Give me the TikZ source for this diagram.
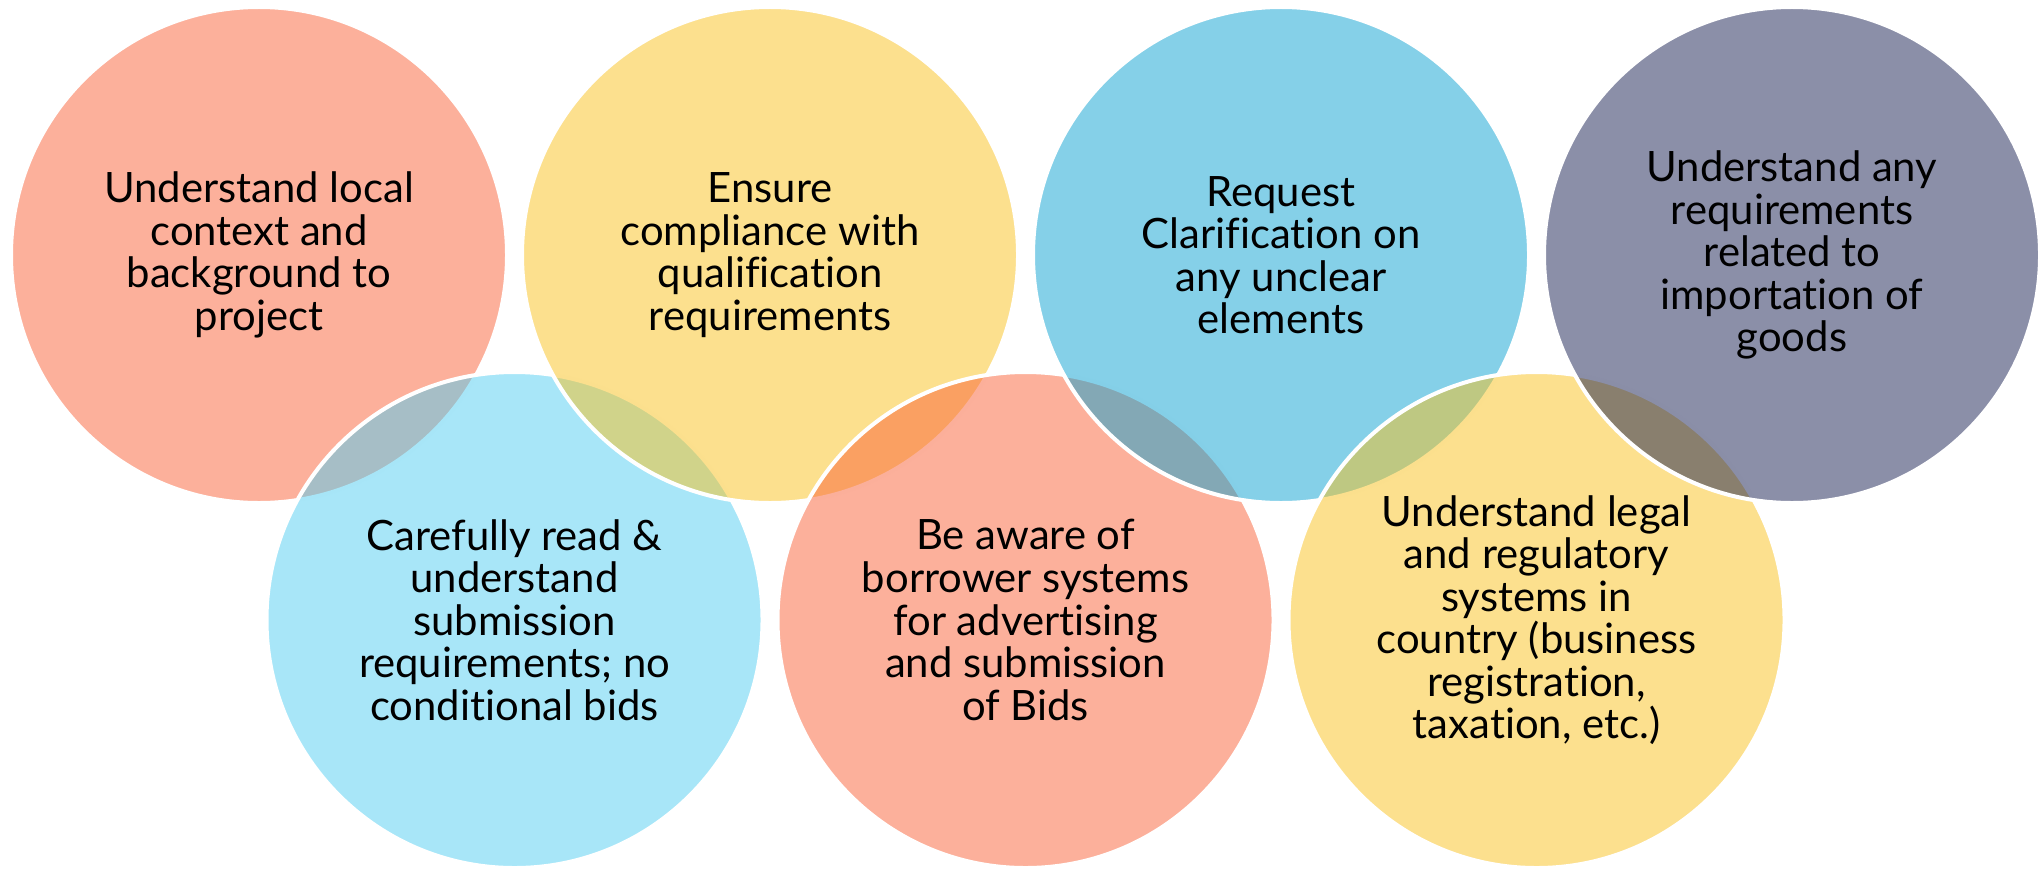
\documentclass[tikz,border=0pt]{standalone}
\usepackage{fontspec}
\setmainfont{Lato}[Ligatures=NoCommon]
\definecolor{csalmon}{RGB}{249,97,55}
\definecolor{cyellow}{RGB}{249,193,29}
\definecolor{cblue}{RGB}{11,161,209}
\definecolor{cslate}{RGB}{23,31,81}
\definecolor{clight}{RGB}{81,205,241}

\begin{document}
\begin{tikzpicture}[circ/.style={circle, minimum size=4.96cm, inner sep=0pt, draw=white, line width=0.04cm, fill opacity=0.5, % 半透明の円
    text opacity=1, text=black, align=center, font=\fontsize{11.9pt}{12.1pt}\selectfont}] % 文字は不透明
  \useasboundingbox (0,0) rectangle (20.39,8.68); % 全体の大きさ

  % 円は左から順に重ねる
  \node[circ, fill=csalmon] (local) at (2.59,6.13) {Understand local\\context and\\background to\\project}; % 上段1
  \node[circ, fill=clight] (read) at (5.145,2.48) {Carefully read \&\\understand\\submission\\requirements; no\\conditional bids}; % 下段1
  \node[circ, fill=cyellow] (comply) at (7.70,6.13) {Ensure\\compliance with\\qualification\\requirements}; % 上段2
  \node[circ, fill=csalmon] (aware) at (10.255,2.48) {Be aware of\\borrower systems\\for advertising\\and submission\\of Bids}; % 下段2
  \node[circ, fill=cblue] (clarify) at (12.81,6.13) {Request\\Clarification on\\any unclear\\elements}; % 上段3
  \node[circ, fill=cyellow] (legal) at (15.365,2.48) {Understand legal\\and regulatory\\systems in\\country (business\\registration,\\taxation, etc.)}; % 下段3
  \node[circ, fill=cslate] (import) at (17.92,6.13) {Understand any\\requirements\\related to\\importation of\\goods}; % 上段4
\end{tikzpicture}
\end{document}
